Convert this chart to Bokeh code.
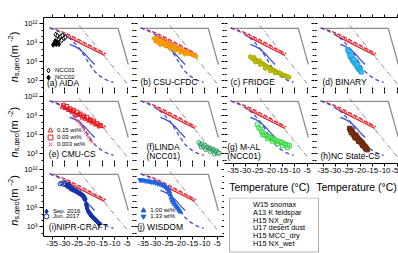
import numpy as np
from bokeh.plotting import figure
from bokeh.layouts import row, column
from bokeh.models import (LinearAxis, LogAxis, FixedTicker, Range1d, LogScale,
                          Legend, LegendItem, Label, BoxAnnotation)
from bokeh.core.properties import value
from bokeh.embed import file_html
from bokeh.resources import INLINE

FONT = "Liberation Sans"

# ---------------------------------------------------------------- axes
x_ticks = [-35, -30, -25, -20, -15, -10, -5]
x_tick_labels = ["-35", "-30", "-25", "-20", "-15", "-10", "-5"]
y_ticks = [1e3, 1e6, 1e9, 1e12]
y_tick_labels = ["10³", "10⁶", "10⁹", "10¹²"]
y_minor_ticks = [1e2, 1e4, 1e5, 1e7, 1e8, 1e10, 1e11]
x_title = "Temperature (°C)"

# ------------------------------------------- parameterisations (log10 ns)
w15_t = [-36, -30, -25, -20, -15, -10, -8.6, -7.5, -6.5, -5.5, -4.5]
w15_ns = [11.3, 11.3, 11.3, 11.3, 11.3, 11.3, 11.3, 9.8, 8.4, 7.0, 5.6]
a13_t = [-24.2, -20, -16, -12, -8, -5]
a13_ns = [11.75, 9.7, 7.8, 5.9, 4.0, 2.6]
nxdry_t = [-36, -33, -30, -27, -24, -21, -18, -15, -13.5]
nxdry_ns = [11.35, 11.0, 10.6, 10.05, 9.45, 8.85, 8.2, 7.6, 7.3]
u17_t = [-30, -26, -22, -18, -14]
u17_ns = [10.45, 9.65, 8.85, 8.05, 7.25]
mccdry_t = [-30, -26, -22, -18, -14]
mccdry_ns = [10.2, 9.4, 8.6, 7.8, 7.0]
nxwet_t = [-36, -33, -30, -27, -24, -22, -20, -18, -16, -14, -12, -10.5]
nxwet_ns = [11.35, 10.9, 10.3, 9.4, 8.1, 6.9, 5.6, 4.5, 3.8, 3.3, 2.95, 2.8]
mccwet_t = [-28, -26, -24, -22, -20, -18]
mccwet_ns = [8.75, 8.45, 8.0, 7.3, 6.4, 5.6]

# ----------------------------------------------- instrument data (log10 ns)
aida_ncc01_t = [-33.6, -32.9, -32.2, -31.5, -30.9, -30.3, -29.7, -32.6, -31.2]
aida_ncc01_ns = [10.3, 10.1, 9.8, 10.0, 10.2, 9.7, 9.9, 9.5, 9.4]
aida_ncc02_t = [-34.6, -34.0, -33.4, -32.8, -32.3, -33.8]
aida_ncc02_ns = [8.7, 9.0, 8.8, 9.1, 8.8, 9.3]

cfdc_t = [-30.5, -30.0, -29.6, -29.2, -28.7, -28.3, -27.8, -27.3, -26.8, -26.2,
          -25.6, -25.0, -24.4, -23.8, -23.2, -22.6, -22.0, -21.4, -20.8, -20.2,
          -19.6, -19.0, -18.4, -17.8, -17.2, -16.6, -16.0, -15.4, -14.8, -14.2,
          -13.6, -28.0, -26.0, -24.0, -22.0, -20.0, -18.0]
cfdc_ns = [9.7, 9.3, 9.8, 9.1, 9.5, 9.0, 9.4, 8.9, 9.2, 8.8,
           9.0, 8.6, 8.8, 8.4, 8.6, 8.2, 8.4, 8.0, 8.1, 7.8,
           7.9, 7.6, 7.7, 7.5, 7.5, 7.3, 7.3, 7.2, 7.1, 7.0,
           6.9, 8.7, 8.5, 8.1, 7.8, 7.5, 7.2]

fridge_t = [-28.0, -27.2, -26.5, -25.8, -25.0, -24.3, -23.6, -22.9, -22.2, -21.5,
            -20.8, -20.1, -19.4, -18.7, -18.0, -17.3, -16.6, -15.9, -15.2, -14.5,
            -13.8, -13.1, -12.4, -26.0, -24.0, -22.0, -20.0, -18.0]
fridge_ns = [6.8, 6.5, 6.7, 6.3, 6.1, 6.2, 5.8, 5.7, 5.5, 5.3,
             5.2, 5.0, 4.8, 4.7, 4.6, 4.4, 4.3, 4.2, 4.0, 3.9,
             3.8, 3.7, 3.6, 6.0, 5.6, 5.0, 4.6, 4.3]

binary_t = [-25.0, -24.6, -24.2, -23.9, -23.5, -23.1, -22.7, -22.3, -21.9, -21.5,
            -21.1, -20.7, -20.3, -19.9, -19.5, -24.0, -22.5, -21.0]
binary_ns = [7.9, 7.6, 7.2, 6.8, 6.6, 6.3, 6.1, 5.9, 5.7, 5.5,
             5.2, 5.0, 4.8, 4.6, 4.4, 7.0, 6.4, 5.6]

cmu_015_t = [-31.0, -29.8, -28.5, -27.1, -25.9, -24.4, -23.0, -21.7, -20.3, -19.0, -17.6, -16.2]
cmu_015_ns = [10.4, 10.2, 9.9, 9.6, 9.3, 9.1, 8.7, 8.5, 8.2, 7.9, 7.6, 7.3]
cmu_003_t = [-30.5, -29.2, -27.8, -26.5, -25.1, -23.8, -22.4, -21.1, -19.7, -18.4, -17.0, -15.7]
cmu_003_ns = [10.7, 10.5, 10.1, 9.9, 9.6, 9.3, 9.0, 8.8, 8.4, 8.2, 7.8, 7.5]
cmu_0003_t = [-26.5, -25.8, -25.0, -24.3, -23.6, -22.9, -22.2, -21.6, -21.0, -20.4, -19.8, -19.2]
cmu_0003_ns = [8.9, 8.6, 8.3, 8.0, 7.6, 7.2, 6.8, 6.4, 6.0, 5.6, 5.2, 4.9]

linda_t = [-12.4, -11.8, -11.2, -10.6, -10.0, -9.4, -8.8, -8.2, -7.6, -7.0,
           -6.4, -5.8, -5.2, -4.6, -4.1, -11.5, -9.7, -7.9, -6.1]
linda_ns = [4.8, 4.5, 4.6, 4.2, 4.4, 4.0, 4.1, 3.8, 3.9, 3.6,
            3.7, 3.4, 3.5, 3.2, 3.1, 4.1, 3.7, 3.4, 3.0]

mal_t = [-25.2, -24.6, -24.0, -23.4, -22.8, -22.1, -21.4, -20.7, -20.0, -19.2,
         -18.4, -17.6, -16.8, -16.0, -15.2, -14.4, -13.6, -12.8, -12.2,
         -23.0, -21.0, -19.0, -17.0, -15.0, -13.0]
mal_ns = [7.6, 7.2, 6.9, 6.5, 6.3, 6.0, 5.9, 5.7, 5.6, 5.4,
          5.3, 5.1, 5.0, 4.9, 4.8, 4.6, 4.5, 4.4, 4.3,
          6.0, 5.4, 5.0, 4.6, 4.3, 4.0]

ncsu_t = [-24.2, -23.7, -23.2, -22.7, -22.2, -21.7, -21.2, -20.7, -20.2, -19.7,
          -19.2, -18.7, -18.2, -17.7, -17.2, -23.5, -22.0, -20.5, -19.0, -17.8]
ncsu_ns = [7.0, 6.7, 6.4, 6.1, 5.9, 5.7, 5.5, 5.3, 5.1, 4.9,
           4.7, 4.4, 4.2, 3.9, 3.7, 6.4, 5.6, 5.0, 4.4, 4.0]

nipr_sep_t = [-29.2, -28.6, -28.0, -27.4, -26.8, -26.2, -25.6, -25.0, -24.4, -23.8,
              -23.2, -22.6, -22.1, -21.7, -21.4, -21.2, -21.0, -20.8, -20.5, -20.1,
              -19.6, -19.1, -18.6, -18.1, -17.6, -17.1, -16.6, -16.1]
nipr_sep_ns = [9.5, 9.4, 9.2, 9.1, 9.0, 8.8, 8.7, 8.6, 8.4, 8.3,
               8.1, 7.9, 7.7, 7.4, 6.6, 6.3, 6.0, 5.7, 5.4, 5.2,
               4.9, 4.7, 4.5, 4.3, 4.1, 3.9, 3.7, 3.5]
nipr_jun_t = [-31.8, -31.1, -30.4, -29.7, -29.0, -28.3]
nipr_jun_ns = [9.8, 9.9, 9.7, 9.8, 9.6, 9.7]

wisdom_100_t = [-24.4, -24.0, -23.6, -23.2, -22.7, -22.2, -21.6, -21.0, -20.4, -19.9]
wisdom_100_ns = [8.6, 8.1, 7.6, 7.2, 6.9, 6.6, 6.3, 6.0, 5.7, 5.4]
wisdom_133_t = [-36.2, -35.3, -34.4, -33.5, -32.6, -31.7, -30.8, -29.9, -29.0, -28.1,
                -27.2, -26.3, -25.5, -24.8]
wisdom_133_ns = [10.4, 10.35, 10.3, 10.25, 10.2, 10.1, 10.05, 9.95, 9.85, 9.75,
                 9.6, 9.4, 9.2, 8.9]

# ---------------------------------------------------------------- styles
GRAY = "#8c8c8c"
RED = "#e8141c"
BLUE = "#3a4fd6"
X_START, X_END, X_END_CUT = -38.5, -2.0, -4.43
Y_MIN, Y_MAX = 10 ** 1.5, 1e13

ref_styles = [
    ("W15 snomax", w15_t, w15_ns, GRAY, "solid", 1.3),
    ("A13 K feldspar", a13_t, a13_ns, GRAY, "5 2 1 2", 1.0),
    ("H15 NX_dry", nxdry_t, nxdry_ns, RED, "4 2", 1.2),
    ("U17 desert dust", u17_t, u17_ns, RED, "1 1", 1.2),
    ("H15 MCC_dry", mccdry_t, mccdry_ns, RED, "solid", 1.2),
    ("H15 NX_wet", nxwet_t, nxwet_ns, BLUE, "4 3", 1.3),
]


def pw(a):
    return [10 ** v for v in a]


def setup_axis(ax, mi, mo, ni, no, labels=None, line=True, size="8px", standoff=1):
    ax.major_tick_in = mi
    ax.major_tick_out = mo
    ax.minor_tick_in = ni
    ax.minor_tick_out = no
    ax.axis_line_color = "black" if line else None
    ax.axis_line_width = 1
    ax.major_tick_line_color = "black"
    ax.minor_tick_line_color = "black"
    if labels is None:
        ax.major_label_overrides = {t: "" for t in ax.ticker.ticks}
        ax.major_label_text_font_size = "0px"
        ax.major_label_standoff = 0
    else:
        ax.major_label_overrides = labels
        ax.major_label_text_font = FONT
        ax.major_label_text_font_size = size
        ax.major_label_text_color = "black"
        ax.major_label_standoff = standoff


def make_panel(width, height, x_end, lb=0, tb=0, bb=0, left_outer=False,
               top_outer=False, bottom_outer=False, right=True, xlabel=None):
    p = figure(width=width, height=height,
               x_range=Range1d(X_START, x_end), y_range=Range1d(Y_MIN, Y_MAX),
               x_axis_type=None, y_axis_type=None,
               toolbar_location=None, output_backend="svg",
               min_border_left=lb, min_border_right=0,
               min_border_top=tb, min_border_bottom=bb)
    p.y_scale = LogScale()
    p.outline_line_color = None
    p.background_fill_color = "white"
    p.border_fill_color = "white"

    ax = LogAxis(ticker=FixedTicker(ticks=y_ticks, minor_ticks=y_minor_ticks))
    if left_outer:
        setup_axis(ax, 0, 4, 0, 2, dict(zip(y_ticks, y_tick_labels)), True, "7.5px", 2)
    else:
        setup_axis(ax, 3, 0, 2, 0, None, line=False)
    p.add_layout(ax, "left")

    if right:
        ax = LogAxis(ticker=FixedTicker(ticks=y_ticks, minor_ticks=y_minor_ticks))
        setup_axis(ax, 3, 0, 2, 0, None, line=True)
        p.add_layout(ax, "right")

    ax = LinearAxis(ticker=FixedTicker(ticks=x_ticks, minor_ticks=[]))
    if top_outer:
        setup_axis(ax, 0, 3, 0, 0, None, line=True)
    else:
        setup_axis(ax, 3, 0, 0, 0, None, line=False)
    p.add_layout(ax, "above")

    ax = LinearAxis(ticker=FixedTicker(ticks=x_ticks, minor_ticks=[]))
    if bottom_outer:
        setup_axis(ax, 0, 3, 0, 0, dict(zip(x_ticks, x_tick_labels)), True, "8px", 1)
        if xlabel:
            ax.axis_label = xlabel
            ax.axis_label_text_font = FONT
            ax.axis_label_text_font_size = "10.5px"
            ax.axis_label_text_font_style = "normal"
            ax.axis_label_text_color = "black"
            ax.axis_label_standoff = 5
    else:
        setup_axis(ax, 3, 0, 0, 0, None, line=True)
    p.add_layout(ax, "below")

    # reference parameterisations
    for _, t, ns, c, dash, w in ref_styles:
        p.line(t, pw(ns), line_color=c, line_dash=dash, line_width=w)
    p.line(mccwet_t, pw(mccwet_ns), line_color=BLUE, line_width=1.3)
    return p


def panel_label(p, lines, x, ys):
    for txt, y in zip(lines, ys):
        p.add_layout(Label(x=x, y=y, x_units="screen", y_units="screen", text=txt,
                           text_font=FONT, text_font_size="8.5px",
                           text_baseline="middle", text_color="black"))


def single_legend(p, lab, r, x_off, yc, box, gw, standoff, size):
    lg = Legend(items=[LegendItem(label=lab, renderers=[r])],
                location=(x_off, yc - box / 2), orientation="vertical",
                glyph_width=gw, glyph_height=box, label_height=box,
                label_standoff=standoff, padding=0, margin=0, spacing=0,
                border_line_color=None, background_fill_alpha=0,
                label_text_font=FONT, label_text_font_size=size,
                label_text_color="black")
    p.add_layout(lg, "center")


def mini_legend(p, entries, x_off, y_centers):
    for (lab, r), yc in zip(entries, y_centers):
        single_legend(p, lab, r, x_off, yc, 12, 12, 1, "6px")


# ---------------------------------------------------------------- panels
pa = make_panel(114, 90, X_END, lb=23, tb=17, left_outer=True, top_outer=True)
pb = make_panel(90, 90, X_END, tb=17, top_outer=True)
pc = make_panel(90, 90, X_END, tb=17, top_outer=True)
pd = make_panel(84, 90, X_END_CUT, tb=17, top_outer=True, right=False)
pe = make_panel(114, 73, X_END, lb=23, left_outer=True)
pf = make_panel(90, 73, X_END)
pg = make_panel(90, 107, X_END, bb=34, bottom_outer=True, xlabel=x_title)
ph = make_panel(84, 107, X_END_CUT, bb=34, bottom_outer=True, xlabel=x_title, right=False)
pi = make_panel(114, 90, X_END, lb=23, bb=17, left_outer=True, bottom_outer=True)
pj = make_panel(90, 90, X_END, bb=17, bottom_outer=True)

# (a) AIDA
r1 = pa.scatter(aida_ncc01_t, pw(aida_ncc01_ns), marker="diamond", size=5,
                fill_color="white", line_color="black", line_width=1)
r2 = pa.scatter(aida_ncc02_t, pw(aida_ncc02_ns), marker="diamond", size=5,
                fill_color="black", line_color="black")
mini_legend(pa, [("NCC01", r1), ("NCC02", r2)], -1, [20, 13])
panel_label(pa, ["(a) AIDA"], 3.5, [8])

# (b) CSU-CFDC
pb.scatter(cfdc_t, pw(cfdc_ns), marker="circle", size=3.6,
           fill_color="#ffa500", line_color="#f29200")
panel_label(pb, ["(b) CSU-CFDC"], 6, [9])

# (c) FRIDGE
pc.scatter(fridge_t, pw(fridge_ns), marker="circle", size=4,
           fill_color="#c3c300", line_color="#a8a800")
panel_label(pc, ["(c) FRIDGE"], 6, [9])

# (d) BINARY
pd.scatter(binary_t, pw(binary_ns), marker="square", size=4,
           fill_color="#38bdf0", line_color="#22a8e0")
panel_label(pd, ["(d) BINARY"], 8, [9])

# (e) CMU-CS
e1 = pe.scatter(cmu_015_t, pw(cmu_015_ns), marker="triangle", size=4.2,
                fill_color=None, line_color=RED)
e2 = pe.scatter(cmu_003_t, pw(cmu_003_ns), marker="square", size=3.8,
                fill_color=None, line_color=RED)
e3 = pe.scatter(cmu_0003_t, pw(cmu_0003_ns), marker="x", size=4,
                line_color="#f0506e")
mini_legend(pe, [("0.15 wt%", e1), ("0.03 wt%", e2), ("0.003 wt%", e3)], 1, [33, 26, 19.3])
panel_label(pe, ["(e) CMU-CS"], 5.3, [9.7])

# (f) LINDA
pf.scatter(linda_t, pw(linda_ns), marker="circle", size=4,
           fill_color=None, line_color="#2f9f62", line_width=1)
panel_label(pf, ["(f)LINDA", "(NCC01)"], 12, [16.3, 7.3])

# (g) M-AL
pg.scatter(mal_t, pw(mal_ns), marker="square", size=4,
           fill_color=None, line_color="#3fd84a")
panel_label(pg, ["(g) M-AL", "(NCC01)"], 2.7, [16.3, 8])

# (h) NC State-CS
ph.scatter(ncsu_t, pw(ncsu_ns), marker="square", size=4.6,
           fill_color="#7e2f10", line_color="#6a260b")
panel_label(ph, ["(h)NC State-CS"], 6, [8])

# (i) NIPR-CRAFT
i1 = pi.scatter(nipr_sep_t, pw(nipr_sep_ns), marker="diamond", size=5.5,
                fill_color="#1533a6", line_color="#1533a6")
i2 = pi.scatter(nipr_jun_t, pw(nipr_jun_ns), marker="circle", size=4.2,
                fill_color=None, line_color="#1533a6")
mini_legend(pi, [("Sep. 2016", i1), ("Jun. 2017", i2)], -3, [25.5, 19.8])
panel_label(pi, ["(i)NIPR-CRAFT"], 5.3, [9.8])

# (j) WISDOM
j1 = pj.scatter(wisdom_100_t, pw(wisdom_100_ns), marker="triangle", size=4.6,
                fill_color="#1f63e0", line_color="#1f63e0")
j2 = pj.scatter(wisdom_133_t, pw(wisdom_133_ns), marker="inverted_triangle", size=4.6,
                fill_color="#1f63e0", line_color="#1f63e0")
mini_legend(pj, [("1.00 wt%", j1), ("1.33 wt%", j2)], 3.3, [26.5, 19.8])
panel_label(pj, ["(j) WISDOM"], 2.7, [9.2])

# ------------------------------------------------------- shared line legend
lf = figure(width=174, height=56, x_range=Range1d(0, 174), y_range=Range1d(0, 56),
            x_axis_type=None, y_axis_type=None, toolbar_location=None,
            output_backend="svg", min_border=0)
lf.outline_line_color = None
lf.add_layout(BoxAnnotation(left=5, right=94, bottom=1.5, top=55.5,
                            fill_color="white", fill_alpha=1,
                            line_color="black", line_width=1, level="underlay"))
for k, (lab, _, _, c, dash, w) in enumerate(ref_styles):
    r = lf.line(x=[], y=[], line_color=c, line_dash=dash, line_width=w)
    single_legend(lf, lab, r, 8, 48.5 - 7.8 * k, 10, 16, 5, "7.4px")

# ------------------------------------------------------------ y-axis titles
ylab = figure(width=20, height=253, x_range=Range1d(0, 20), y_range=Range1d(0, 253),
              x_axis_type=None, y_axis_type=None, toolbar_location=None,
              output_backend="svg", min_border=0)
ylab.outline_line_color = None
row_centres = [56.5, 131.7, 200.0]
pieces = [("n", 11, "italic", 0.0, 6.1),
          ("s,geo", 7.5, "normal", 2.3, 18.3),
          (" (m", 11, "normal", 0.0, 15.9),
          ("-2", 7.5, "normal", -4.0, 6.7),
          (")", 11, "normal", 0.0, 3.7)]
total = sum(pc_[4] for pc_ in pieces)
base_x = 13.8
for c in row_centres:
    y0 = (253 - c) - total / 2
    for txt, fs, style, dx, w in pieces:
        ylab.text(x=[base_x + dx], y=[y0], text=[txt], angle=np.pi / 2,
                  text_font=value(FONT), text_font_size=f"{fs}px",
                  text_font_style=style, text_align="left",
                  text_baseline="alphabetic", text_color="black")
        y0 += w

left_block = column(row(pa, pb), row(pe, pf), row(pi, pj))
right_block = column(row(pc, pd), row(pg, ph), lf)
layout = row(ylab, left_block, right_block)

open("out.html", "w").write(file_html(layout, INLINE))
